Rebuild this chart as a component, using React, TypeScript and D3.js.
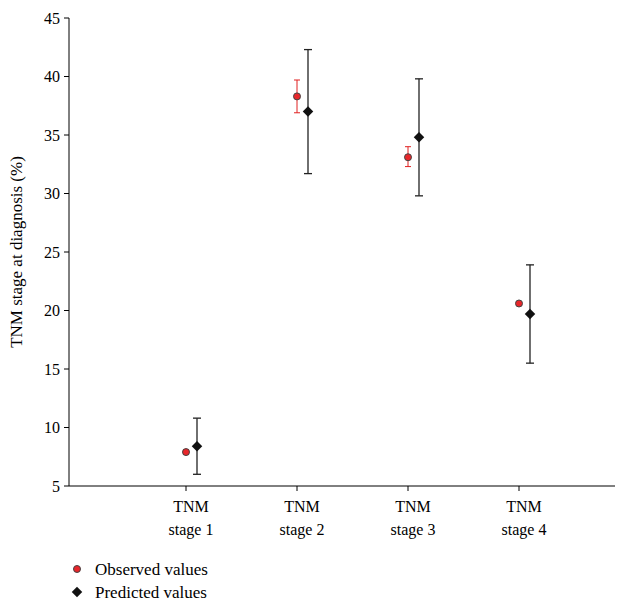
import React from 'react';
import * as d3 from 'd3';

const stages = ['TNM stage 1', 'TNM stage 2', 'TNM stage 3', 'TNM stage 4'];
const observed = [7.9, 38.3, 33.1, 20.6];
const observedLow = [7.7, 36.9, 32.3, 20.5];
const observedHigh = [8.1, 39.7, 34.0, 20.7];
const predicted = [8.4, 37.0, 34.8, 19.7];
const predictedLow = [6.0, 31.7, 29.8, 15.5];
const predictedHigh = [10.8, 42.3, 39.8, 23.9];
const yTicks = [5, 10, 15, 20, 25, 30, 35, 40, 45];

const W = 630, H = 604;
const left = 69, right = 615, top = 18, bottom = 486;

export default function App() {
  const y = d3.scaleLinear().domain([5, 45]).range([bottom, top]);
  const x = d3.scaleLinear().domain([0, 3]).range([186, 519]);
  const font = 'Liberation Serif, serif';
  const diamond = d3.symbol(d3.symbolDiamond2, 70)();
  return (
    <svg width={W} height={H} style={{ position: 'absolute', left: 0, top: 0 }} fontFamily={font}>
      <line x1={left} x2={left} y1={top} y2={bottom} stroke="#000" />
      <line x1={left} x2={right} y1={bottom} y2={bottom} stroke="#000" />
      {yTicks.map(t => (
        <g key={t}>
          <line x1={left - 5} x2={left} y1={y(t)} y2={y(t)} stroke="#000" />
          <text x={left - 9} y={y(t)} dy="0.35em" textAnchor="end" fontSize={16}>{t}</text>
        </g>
      ))}
      <text transform={`translate(22,${(top + bottom) / 2}) rotate(-90)`} textAnchor="middle" fontSize={17}>TNM stage at diagnosis (%)</text>
      {stages.map((s, i) => {
        const cx = x(i);
        const px = cx + 11;
        const [a, b] = s.split(' stage ');
        return (
          <g key={s}>
            <line x1={cx} x2={cx} y1={bottom} y2={bottom + 5} stroke="#000" />
            <text x={cx + 5} y={512} textAnchor="middle" fontSize={16}>{a}</text>
            <text x={cx + 5} y={535} textAnchor="middle" fontSize={16}>stage {b}</text>
            <line x1={cx} x2={cx} y1={y(observedLow[i])} y2={y(observedHigh[i])} stroke="#e02020" />
            <line x1={cx - 3} x2={cx + 3} y1={y(observedLow[i])} y2={y(observedLow[i])} stroke="#e02020" />
            <line x1={cx - 3} x2={cx + 3} y1={y(observedHigh[i])} y2={y(observedHigh[i])} stroke="#e02020" />
            <line x1={px} x2={px} y1={y(predictedLow[i])} y2={y(predictedHigh[i])} stroke="#222" strokeWidth={1.3} />
            <line x1={px - 4} x2={px + 4} y1={y(predictedLow[i])} y2={y(predictedLow[i])} stroke="#222" strokeWidth={1.3} />
            <line x1={px - 4} x2={px + 4} y1={y(predictedHigh[i])} y2={y(predictedHigh[i])} stroke="#222" strokeWidth={1.3} />
            <circle cx={cx} cy={y(observed[i])} r={3.5} fill="#e8262a" stroke="#444" strokeWidth={1} />
            <path d={diamond} transform={`translate(${px},${y(predicted[i])})`} fill="#111" />
          </g>
        );
      })}
      <circle cx={77} cy={569} r={3.5} fill="#e8262a" stroke="#444" />
      <text x={95} y={569} dy="0.35em" fontSize={17}>Observed values</text>
      <path d={diamond} transform="translate(77,592)" fill="#111" />
      <text x={95} y={592} dy="0.35em" fontSize={17}>Predicted values</text>
    </svg>
  );
}
